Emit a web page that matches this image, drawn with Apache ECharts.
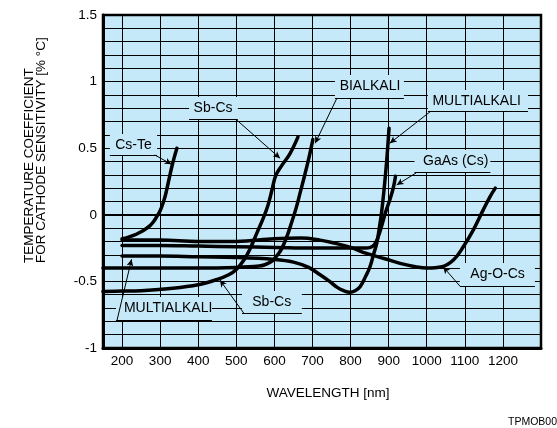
<!DOCTYPE html>
<html><head><meta charset="utf-8">
<script src="https://cdn.jsdelivr.net/npm/echarts@6/dist/echarts.min.js"></script>
<style>html,body{margin:0;padding:0;background:#fff}#c{width:557px;height:428px}</style>
</head><body><div id="c"></div>
<script>
// ---- data: [wavelength nm, temperature coefficient %/°C] ----
const csTe = [[200,-0.18],[215,-0.17],[230,-0.155],[245,-0.135],[260,-0.11],[272,-0.085],[283,-0.05],[292,-0.01],[300,0.03],[308,0.09],[315,0.16],[322,0.25],[329,0.34],[336,0.42],[344,0.5]];
const sbCs = [[150,-0.575],[200,-0.573],[250,-0.57],[320,-0.555],[400,-0.525],[450,-0.485],[480,-0.45],[500,-0.41],[520,-0.34],[537,-0.25],[555,-0.13],[570,-0.03],[583,0.07],[594,0.19],[603,0.29],[617,0.36],[641,0.46],[662,0.585]];
const bialkali = [[150,-0.40],[300,-0.40],[400,-0.40],[500,-0.395],[560,-0.385],[575,-0.375],[590,-0.355],[600,-0.33],[610,-0.295],[620,-0.25],[632,-0.17],[645,-0.06],[657,0.05],[668,0.17],[678,0.28],[690,0.42],[701,0.565]];
const multialkali = [[200,-0.31],[300,-0.31],[400,-0.315],[500,-0.32],[600,-0.335],[650,-0.355],[690,-0.395],[720,-0.45],[745,-0.5],[765,-0.545],[782,-0.57],[798,-0.582],[812,-0.57],[825,-0.54],[840,-0.46],[851,-0.39],[860,-0.3],[869,-0.21],[876,-0.09],[882,0.03],[890,0.25],[895,0.41],[901,0.65]];
const gaAs = [[200,-0.23],[300,-0.23],[400,-0.235],[500,-0.24],[600,-0.245],[700,-0.25],[800,-0.25],[840,-0.25],[852,-0.245],[862,-0.225],[870,-0.185],[882,-0.08],[892,0.02],[904,0.12],[912,0.2],[918,0.29]];
const agOCs = [[200,-0.19],[300,-0.19],[400,-0.2],[500,-0.2],[600,-0.18],[670,-0.175],[720,-0.19],[754,-0.21],[800,-0.245],[842,-0.29],[890,-0.33],[930,-0.365],[970,-0.39],[1000,-0.4],[1040,-0.39],[1070,-0.34],[1096,-0.24],[1122,-0.115],[1148,0.035],[1166,0.135],[1180,0.2]];

const curveNames = ['Cs-Te','Sb-Cs','BIALKALI','MULTIALKALI','GaAs (Cs)','Ag-O-Cs'];
const curves = [csTe, sbCs, bialkali, multialkali, gaAs, agOCs];

const xTickLabels = ['200','300','400','500','600','700','800','900','1000','1100','1200'];
const yTickLabels = ['-1','-0.5','0','0.5','1','1.5'];

// ---- annotations (label text, anchor, box, leader) in data coordinates ----
const notes = [
  {text:'Cs-Te',       at:[230,0.524],   box:[168,0.607,292,0.449],   from:[286,0.449],  to:[330,0.379]},
  {text:'Sb-Cs',       at:[439,0.802],   box:[376,0.884,504,0.717],   from:[499,0.717],  to:[615,0.424]},
  {text:'BIALKALI',    at:[851,0.967],   box:[759,1.05,940,0.875],    from:[764,0.875],  to:[707,0.537]},
  {text:'MULTIALKALI', at:[1131,0.854],  box:[1003,0.937,1266,0.774], from:[1009,0.774], to:[903,0.537]},
  {text:'GaAs (Cs)',   at:[1076,0.404],  box:[968,0.487,1167,0.316],  from:[973,0.316],  to:[921,0.224]},
  {text:'Ag-O-Cs',     at:[1186,-0.444], box:[1087,-0.362,1284,-0.535], from:[1087,-0.535], to:[1043,-0.39]},
  {text:'MULTIALKALI', at:[321,-0.70],   box:[184,-0.617,436,-0.79],  from:[187,-0.79],  to:[225,-0.334]},
  {text:'Sb-Cs',       at:[593,-0.655],  box:[515,-0.572,672,-0.74],  from:[520,-0.74],  to:[457,-0.49]}
];

const BG = '#c6e9f9';
const FONT = '"Liberation Sans", Arial, Helvetica, sans-serif';

const chart = echarts.init(document.getElementById('c'), null, {renderer:'canvas'});

const series = curves.map((d, i) => ({
  name: curveNames[i], type:'line', data: d, showSymbol:false, smooth:0.4,
  lineStyle:{color:'#000', width:3.5, cap:'round', join:'round'}, z:3, silent:true
}));

const markLines = [
  [{coord:[150,0], lineStyle:{width:2}},{coord:[1300,0]}]
];
notes.forEach(n => {
  markLines.push([{coord:[n.box[0], n.box[3]]},{coord:[n.box[2], n.box[3]]}]);
  markLines.push([{coord:n.from, symbol:'none'},{coord:n.to, symbol:'arrow', symbolSize:[5,7]}]);
});

series.push({
  name:'notes', type:'line', data:[], silent:true, z:2,
  markArea:{silent:true, itemStyle:{color:BG, opacity:1, borderWidth:0},
    data: notes.map(n => [{coord:[n.box[0], n.box[1]]},{coord:[n.box[2], n.box[3]]}]), label:{show:false}},
  markLine:{silent:true, symbol:['none','none'], precision:4,
    lineStyle:{color:'#000', width:1, type:'solid'}, label:{show:false},
    emphasis:{disabled:true}, data: markLines},
  markPoint:{silent:true, symbol:'circle', symbolSize:1, itemStyle:{color:'rgba(0,0,0,0)'},
    label:{show:true, position:'inside', formatter:'{b}', color:'#000', fontSize:14, fontFamily:FONT},
    data: notes.map(n => ({name:n.text, coord:n.at, value:0}))}
});

chart.setOption({
  animation:false,
  backgroundColor:'#fff',
  grid:{left:103, right:16, top:15, bottom:80, show:true, backgroundColor:BG, borderColor:'#000', borderWidth:2.5},
  xAxis:{type:'value', min:150, max:1300, interval:50,
    axisLine:{show:true, onZero:false, lineStyle:{color:'#000', width:3}},
    axisTick:{show:false},
    splitLine:{show:true, lineStyle:{color:['rgba(0,0,0,0)','#000'], width:1}},
    axisLabel:{color:'#000', fontSize:13.5, fontFamily:FONT, margin:6,
      formatter: v => { const s = String(Math.round(v)); return xTickLabels.indexOf(s) >= 0 ? s : ''; }}
  },
  yAxis:{type:'value', min:-1, max:1.5, interval:0.1,
    axisLine:{show:true, onZero:false, lineStyle:{color:'#000', width:3}},
    axisTick:{show:false},
    splitLine:{show:true, lineStyle:{color:'#000', width:1}},
    axisLabel:{color:'#000', fontSize:13.5, fontFamily:FONT, margin:6,
      formatter: v => { const r = Math.round(v*10); const s = String(r/10); return (r % 5 === 0 && yTickLabels.indexOf(s) >= 0) ? s : ''; }}
  },
  series: series,
  graphic:[
    {type:'text', x:328, y:393, style:{text:'WAVELENGTH [nm]', font:'13.5px '+FONT, fill:'#000', align:'center', verticalAlign:'middle'}},
    {type:'text', x:29.5, y:263, rotation:Math.PI/2, style:{text:'TEMPERATURE COEFFICIENT', font:'13.5px '+FONT, fill:'#000', align:'left', verticalAlign:'middle'}},
    {type:'text', x:41.5, y:263, rotation:Math.PI/2, style:{text:'FOR CATHODE SENSITIVITY [% °C]', font:'13.5px '+FONT, fill:'#000', align:'left', verticalAlign:'middle'}},
    {type:'text', x:508, y:422, style:{text:'TPMOB0002EA', font:'10.5px '+FONT, fill:'#000', align:'left', verticalAlign:'middle'}}
  ]
});
</script></body></html>
